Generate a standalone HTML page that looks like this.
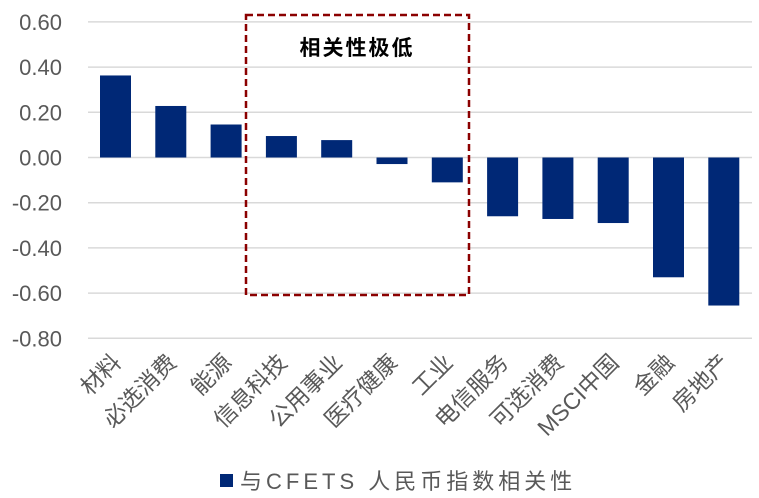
<!DOCTYPE html>
<html><head><meta charset="utf-8"><style>
body{margin:0;background:#fff}
svg{display:block}
text{font-family:"Liberation Sans","Noto Sans CJK SC",sans-serif}
</style></head><body>
<svg id="chart" width="759" height="498">
<g id="grid"></g><g id="bars"></g><g id="xl"></g><g id="yl"></g>
<rect x="246" y="15" width="223" height="280" fill="none" stroke="#8B0000" stroke-width="2.5" stroke-dasharray="7,4"/>
<text x="357" y="55" text-anchor="middle" font-size="21" font-weight="bold" fill="#000" font-family="Noto Serif CJK SC, serif" letter-spacing="2">相关性极低</text>
<rect x="220" y="474" width="13" height="13" fill="#002876"/>
<text x="240" y="489" font-size="22" fill="#595959" letter-spacing="4">与CFETS 人民币指数相关性</text>
</svg>
<script>
const categories=["材料","必选消费","能源","信息科技","公用事业","医疗健康","工业","电信服务","可选消费","MSCI中国","金融","房地产"];
const values=[0.363,0.228,0.146,0.095,0.077,-0.029,-0.11,-0.26,-0.272,-0.29,-0.53,-0.655];
const ticks=[0.6,0.4,0.2,0,-0.2,-0.4,-0.6,-0.8];
const NS="http://www.w3.org/2000/svg";
const y=v=>157.5-v*226;
const x=i=>115.5+i*55.3;
function mk(t,a,p){const e=document.createElementNS(NS,t);for(const k in a)e.setAttribute(k,a[k]);document.getElementById(p).appendChild(e);return e;}
ticks.forEach(t=>{
 const g=mk('line',{x1:88,x2:752,y1:y(t),y2:y(t),stroke:'#d9d9d9','stroke-width':1.5},'grid');
 
 
 const l=mk('text',{x:62,y:y(t)+8,'text-anchor':'end','font-size':22,fill:'#595959'},'yl');
 l.textContent=t.toFixed(2);
 
 
});
values.forEach((v,i)=>{
 const b=mk('rect',{x:x(i)-15.5,width:31,y:Math.min(y(v),y(0)),height:Math.abs(y(v)-y(0)),fill:'#002876'},'bars');
 
 
 const l=mk('text',{x:x(i)+7,y:364,'text-anchor':'end','font-size':23,fill:'#595959',transform:`rotate(-45 ${x(i)+7} 364)`},'xl');
 l.textContent=categories[i];
 
 
});
</script>
</body></html>
